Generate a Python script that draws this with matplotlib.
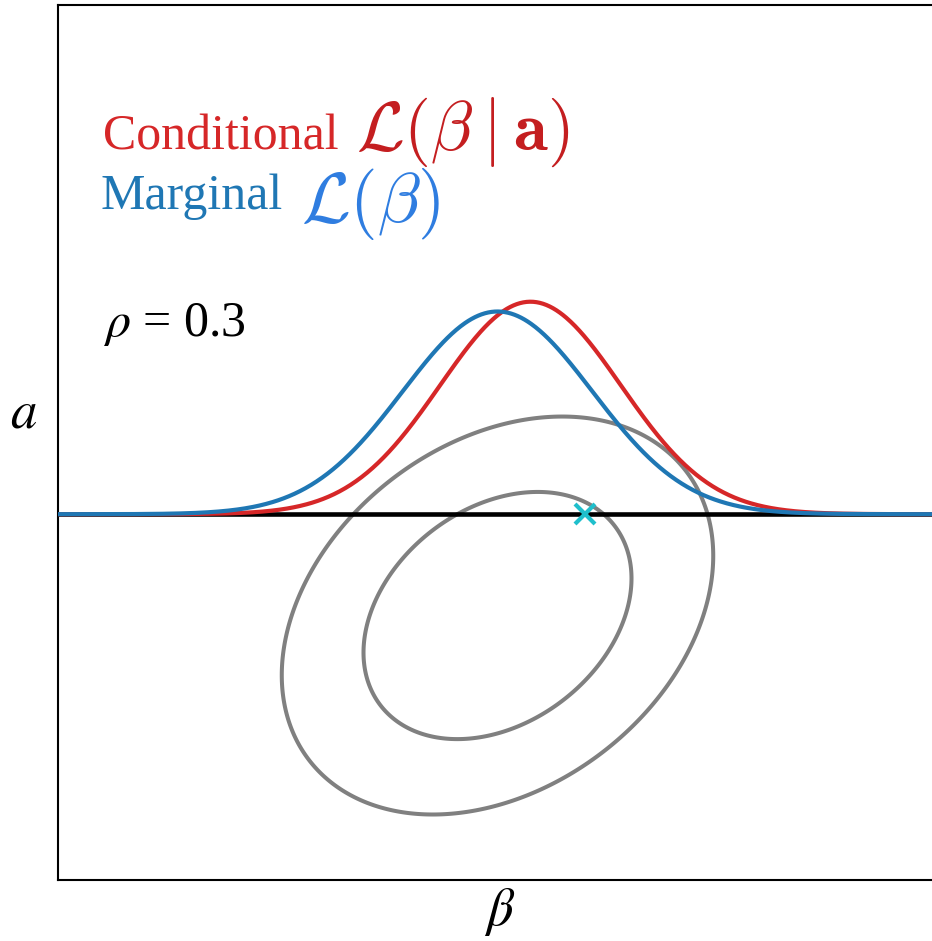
import numpy as np
import matplotlib.pyplot as plt

# joint Gaussian over (beta, a)
mu_beta, mu_a = 0.0, 0.0
sigma_beta, sigma_a = 1.0, 1.0
rho = 0.3
contour_radii = [1.0, 1.61]      # Mahalanobis radii of the drawn contours
a_slice = 0.82                   # value of a we condition on
beta_hat = 0.65                  # marked point on the slice
curve_peak = 1.64                # height of the marginal curve above the slice
curve_shrink = np.sqrt(2)        # curves drawn as pdf^2 shape

xlim = (-3.28, 3.28)
ylim = (-2.14, 4.94)

RED = "#d62728"
BLUE = "#1f77b4"

fig = plt.figure(figsize=(9.32, 9.41), dpi=100)
ax = fig.add_axes([58 / 932, 61 / 941, 879 / 932, 875 / 941])

# contours of the joint density
bb, aa = np.meshgrid(np.linspace(*xlim, 600), np.linspace(*ylim, 600))
zb = (bb - mu_beta) / sigma_beta
za = (aa - mu_a) / sigma_a
m2 = (zb**2 - 2 * rho * zb * za + za**2) / (1 - rho**2)
ax.contour(bb, aa, m2, levels=[r**2 for r in contour_radii],
           colors="#808080", linewidths=2.9)

# slice line
ax.axhline(a_slice, color="black", lw=3.3, zorder=2)


def gauss(x, m, s):
    return np.exp(-0.5 * ((x - m) / s) ** 2) / (s * np.sqrt(2 * np.pi))


beta = np.linspace(*xlim, 800)
sd_marg = sigma_beta / curve_shrink
sd_cond = sigma_beta * np.sqrt(1 - rho**2) / curve_shrink
mean_cond = mu_beta + rho * sigma_beta / sigma_a * (a_slice - mu_a)
scale = curve_peak / gauss(0, 0, sd_marg)

ax.plot(beta, a_slice + scale * gauss(beta, mean_cond, sd_cond),
        color=RED, lw=3, zorder=3)
ax.plot(beta, a_slice + scale * gauss(beta, mu_beta, sd_marg),
        color=BLUE, lw=3, zorder=4)

ax.plot([beta_hat], [a_slice], marker="x", color="#1fbfcc",
        markersize=14, mew=3, zorder=5)

ax.set_xlim(*xlim)
ax.set_ylim(*ylim)
ax.set_xticks([])
ax.set_yticks([])
for sp in ax.spines.values():
    sp.set_linewidth(1.5)


def ftext(px, py, s, **kw):
    fig.text(px / 932, 1 - py / 941, s, va="baseline", ha="left", **kw)


serif = "Liberation Serif"
ftext(103, 150, "Conditional", color=RED, fontsize=36, family=serif)
ftext(356, 150, r"$\mathcal{L}(\beta\mid\mathbf{a})$", color="#c41e20",
      fontsize=50, math_fontfamily="cm")
ftext(101, 209, "Marginal", color=BLUE, fontsize=36, family=serif)
ftext(301, 222, r"$\mathcal{L}(\beta)$", color="#2f7de0",
      fontsize=51, math_fontfamily="cm")
ftext(103, 336, r"$\rho$ = 0.3", color="black", fontsize=36,
      family=serif, math_fontfamily="stix")

ftext(10, 428, r"$a$", color="black", fontsize=38, math_fontfamily="stix")
fig.text(500 / 932, 1 - 925 / 941, r"$\beta$", color="black", fontsize=38,
         ha="center", va="baseline", math_fontfamily="stix")

plt.savefig("out.png", dpi=100)
